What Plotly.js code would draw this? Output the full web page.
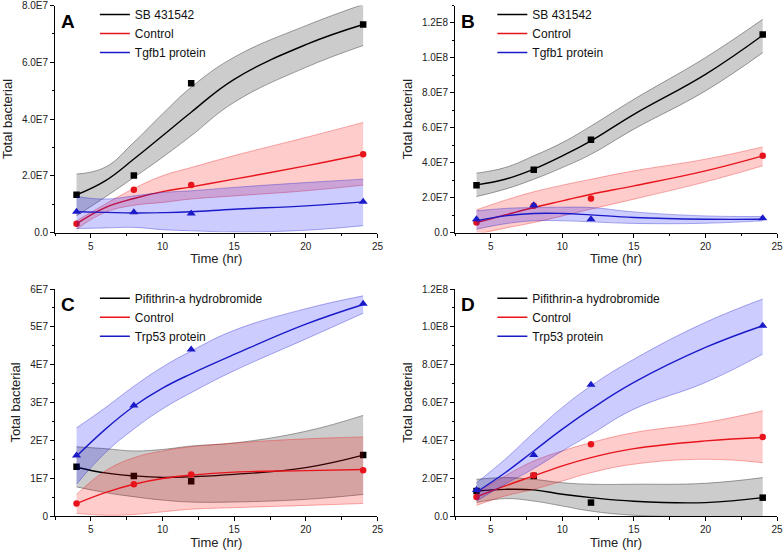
<!DOCTYPE html>
<html>
<head>
<meta charset="utf-8">
<script src="https://cdn.plot.ly/plotly-3.0.1.min.js"></script>
<style>
  html, body { margin: 0; padding: 0; background: #fff; }
  #plot { width: 784px; height: 552px; }
</style>
</head>
<body>
<div id="plot"></div>
<script>
// values are in millions (1E6) of bacteria
let ptX = [4, 8, 12, 24]
let fitX = [4, 6, 8, 10, 12, 15, 20, 24]

// Panel A - SB 431542 / Control / Tgfb1 protein
let aBlackPts = [13.3, 20.1, 52.6, 73.3]
let aBlackFit = [13.3, 18.2, 25.9, 34.1, 42.4, 54.0, 66.2, 73.3]
let aBlackUp  = [20.6, 23.0, 31.8, 41.8, 51.2, 61.8, 72.9, 80.4]
let aBlackLo  = [5.9, 12.5, 19.4, 26.5, 34.1, 45.9, 58.2, 65.9]
let aRedPts = [3.1, 15.1, 16.7, 27.6]
let aRedFit = [3.1, 8.8, 12.0, 14.4, 16.1, 18.8, 23.5, 27.6]
let aRedUp  = [4.1, 10.0, 15.5, 20.0, 22.9, 27.1, 33.5, 38.8]
let aRedLo  = [1.2, 7.1, 9.6, 10.6, 11.8, 12.9, 14.7, 16.7]
let aBluePts = [7.3, 7.1, 6.7, 10.8]
let aBlueFit = [7.3, 7.1, 6.9, 7.0, 7.3, 8.2, 9.4, 10.8]
let aBlueUp  = [12.7, 11.8, 12.9, 14.1, 14.7, 15.9, 17.6, 18.8]
let aBlueLo  = [1.4, 1.6, 1.8, 1.0, 0.6, 0.2, 0.8, 2.4]

// Panel B
let bBlackPts = [27.1, 35.9, 53.1, 113.4]
let bBlackFit = [27.3, 30.5, 36.3, 43.9, 52.5, 67.7, 90.6, 113.0]
let bBlackUp  = [34.0, 37.2, 43.9, 51.5, 61.0, 76.3, 100.2, 122.1]
let bBlackLo  = [20.6, 24.8, 30.5, 37.2, 44.8, 59.2, 81.1, 103.0]
let bRedPts = [5.7, 15.3, 19.5, 43.9]
let bRedFit = [5.7, 10.0, 14.3, 18.1, 21.9, 26.7, 35.3, 43.9]
let bRedUp  = [13.0, 18.5, 23.3, 27.1, 30.5, 35.3, 42.0, 49.0]
let bRedLo  = [-1.0, 2.5, 5.7, 9.5, 13.4, 19.1, 29.0, 38.2]
let bBluePts = [7.6, 15.6, 7.6, 8.2]
let bBlueFit = [6.7, 9.5, 10.9, 10.9, 10.1, 8.6, 7.6, 7.6]
let bBlueUp  = [12.4, 13.8, 14.3, 14.5, 14.3, 11.8, 9.5, 9.2]
let bBlueLo  = [1.9, 5.0, 6.7, 6.7, 6.1, 5.2, 5.3, 6.7]

// Panel C - Pifithrin-a hydrobromide / Control / Trp53 protein
let cBlackPts = [13.0, 10.6, 9.2, 16.1]
let cBlackFit = [12.9, 11.4, 10.6, 10.2, 10.4, 11.0, 12.8, 16.1]
let cBlackUp  = [18.3, 17.8, 17.2, 17.6, 18.5, 19.3, 22.4, 26.6]
let cBlackLo  = [7.7, 6.2, 5.1, 4.2, 3.7, 3.7, 4.4, 5.7]
let cRedPts = [3.3, 8.4, 11.0, 12.1]
let cRedFit = [3.3, 6.2, 8.4, 9.9, 10.8, 11.6, 12.0, 12.3]
let cRedUp  = [5.7, 11.9, 15.4, 17.2, 18.3, 19.3, 20.4, 20.9]
let cRedLo  = [0.7, 0.2, 0.4, 1.1, 1.8, 2.2, 2.8, 3.3]
let cBluePts = [16.0, 29.2, 44.0, 56.1]
let cBlueFit = [15.8, 22.9, 29.0, 33.8, 37.6, 42.7, 50.7, 55.9]
let cBlueUp  = [23.3, 28.6, 34.3, 39.4, 43.6, 49.1, 54.8, 58.2]
let cBlueLo  = [8.4, 16.7, 23.0, 28.3, 32.6, 38.4, 46.8, 53.6]

// Panel D
let dBlackPts = [13.2, 21.2, 7.1, 9.7]
let dBlackFit = [13.2, 14.1, 13.8, 11.5, 9.7, 7.8, 7.1, 9.7]
let dBlackUp  = [19.4, 20.3, 19.4, 17.6, 16.8, 16.8, 17.3, 20.3]
let dBlackLo  = [7.1, 9.2, 7.9, 5.3, 2.6, 0.4, -0.5, -1.5]
let dRedPts = [10.1, 21.5, 37.9, 41.8]
let dRedFit = [10.1, 15.9, 21.2, 26.5, 30.9, 35.6, 39.7, 41.5]
let dRedUp  = [12.4, 21.2, 29.1, 34.4, 38.8, 44.1, 49.4, 55.6]
let dRedLo  = [5.6, 10.6, 14.1, 18.5, 22.9, 27.4, 30.0, 28.2]
let dBluePts = [13.8, 32.3, 69.4, 100.6]
let dBlueFit = [12.7, 22.9, 34.4, 45.9, 56.5, 70.6, 89.1, 100.6]
let dBlueUp  = [17.6, 30.0, 44.1, 57.4, 68.8, 82.9, 102.4, 114.7]
let dBlueLo  = [7.9, 16.8, 25.1, 34.4, 43.2, 56.5, 70.6, 85.6]

// tick labels
let xTicks = [5, 10, 15, 20, 25]
let yTicksAB = [0, 20, 40, 60, 80, 100, 120]
let yTextAB = ['0.0', '2.0E7', '4.0E7', '6.0E7', '8.0E7', '1.0E8', '1.2E8']
let yTicksC = [0, 10, 20, 30, 40, 50, 60]
let yTextC = ['0', '1E7', '2E7', '3E7', '4E7', '5E7', '6E7']

let font = 'Liberation Sans, Arial, sans-serif'

let styles = {
    black: {line: '#000000', edge: 'rgba(60,60,60,0.6)', fill: 'rgba(0,0,0,0.2)', symbol: 'square', size: 6.5},
    red: {line: '#e8141b', edge: 'rgba(230,30,30,0.45)', fill: 'rgba(255,0,0,0.2)', symbol: 'circle', size: 6.5},
    blue: {line: '#1a1ac8', edge: 'rgba(30,30,200,0.45)', fill: 'rgba(0,0,255,0.2)', symbol: 'triangle-up', size: 8}
};

let data = []

// one series = band + fit line + data points
function addSeries(ax, leg, name, col, pts, fit, up, lo) {
    let s = styles[col]
    let xa = 'x' + ax, ya = 'y' + ax
    data.push({x: fitX, y: lo, xaxis: xa, yaxis: ya, mode: 'lines', showlegend: false,
        line: {color: s.edge, width: 0.8, shape: 'spline', smoothing: 1.2}, hoverinfo: 'skip'})
    data.push({x: fitX, y: up, xaxis: xa, yaxis: ya, mode: 'lines', fill: 'tonexty', fillcolor: s.fill,
        showlegend: false, line: {color: s.edge, width: 0.8, shape: 'spline', smoothing: 1.2}, hoverinfo: 'skip'})
    data.push({x: fitX, y: fit, xaxis: xa, yaxis: ya, mode: 'lines', name: name, legend: leg,
        line: {color: s.line, width: 1.4, shape: 'spline', smoothing: 1.2}})
    data.push({x: ptX, y: pts, xaxis: xa, yaxis: ya, mode: 'markers', showlegend: false,
        marker: {color: s.line, symbol: s.symbol, size: s.size}})
}

addSeries('', 'legend', 'SB 431542', 'black', aBlackPts, aBlackFit, aBlackUp, aBlackLo)
addSeries('', 'legend', 'Control', 'red', aRedPts, aRedFit, aRedUp, aRedLo)
addSeries('', 'legend', 'Tgfb1 protein', 'blue', aBluePts, aBlueFit, aBlueUp, aBlueLo)

addSeries('2', 'legend2', 'SB 431542', 'black', bBlackPts, bBlackFit, bBlackUp, bBlackLo)
addSeries('2', 'legend2', 'Control', 'red', bRedPts, bRedFit, bRedUp, bRedLo)
addSeries('2', 'legend2', 'Tgfb1 protein', 'blue', bBluePts, bBlueFit, bBlueUp, bBlueLo)

addSeries('3', 'legend3', 'Pifithrin-a hydrobromide', 'black', cBlackPts, cBlackFit, cBlackUp, cBlackLo)
addSeries('3', 'legend3', 'Control', 'red', cRedPts, cRedFit, cRedUp, cRedLo)
addSeries('3', 'legend3', 'Trp53 protein', 'blue', cBluePts, cBlueFit, cBlueUp, cBlueLo)

addSeries('4', 'legend4', 'Pifithrin-a hydrobromide', 'black', dBlackPts, dBlackFit, dBlackUp, dBlackLo)
addSeries('4', 'legend4', 'Control', 'red', dRedPts, dRedFit, dRedUp, dRedLo)
addSeries('4', 'legend4', 'Trp53 protein', 'blue', dBluePts, dBlueFit, dBlueUp, dBlueLo)

function xAxis(domain, anchor) {
    return {
        domain: domain, anchor: anchor, range: [2.5, 25],
        tickmode: 'array', tickvals: xTicks,
        showline: true, linecolor: '#000', linewidth: 1, mirror: false,
        ticks: 'outside', ticklen: 4, tickcolor: '#000',
        minor: {dtick: 2.5, tick0: 0, ticks: 'outside', ticklen: 2.5, tickcolor: '#000'},
        showgrid: false, zeroline: false,
        tickfont: {size: 10, color: '#222', family: font},
        title: {text: 'Time (hr)', font: {size: 13, color: '#222', family: font}, standoff: 3}
    }
}

function yAxis(domain, anchor, range, vals, text, minorStep) {
    return {
        domain: domain, anchor: anchor, range: range,
        tickmode: 'array', tickvals: vals, ticktext: text,
        showline: true, linecolor: '#000', linewidth: 1,
        ticks: 'outside', ticklen: 4, tickcolor: '#000',
        minor: {dtick: minorStep, tick0: 0, ticks: 'outside', ticklen: 2.5, tickcolor: '#000'},
        showgrid: false, zeroline: false,
        tickfont: {size: 10, color: '#222', family: font},
        title: {text: 'Total bacterial', font: {size: 13, color: '#222', family: font}, standoff: 6}
    }
}

function legendAt(x, y) {
    return {
        x: x, y: y, xanchor: 'left', yanchor: 'top',
        bgcolor: 'rgba(0,0,0,0)', borderwidth: 0, traceorder: 'normal',
        font: {size: 12, color: '#111', family: font},
        itemwidth: 30, tracegroupgap: 0
    }
}

function letter(ax, txt) {
    return {
        text: '<b>' + txt + '</b>', xref: 'x' + ax + ' domain', yref: 'y' + ax + ' domain',
        x: 0.012, y: 0.985, xanchor: 'left', yanchor: 'top', showarrow: false,
        font: {size: 19, color: '#000', family: font}
    }
}

let xdL = [0.0702, 0.4815], xdR = [0.5804, 0.9911]
let ydT = [0.5788, 0.9900], ydB = [0.0652, 0.4764]

let layout = {
    width: 784, height: 552,
    margin: {l: 0, r: 0, t: 0, b: 0},
    paper_bgcolor: '#fff', plot_bgcolor: '#fff',
    font: {family: font},
    xaxis: xAxis(xdL, 'y'),
    yaxis: yAxis(ydT, 'x', [0, 80], yTicksAB, yTextAB, 10),
    xaxis2: xAxis(xdR, 'y2'),
    yaxis2: yAxis(ydT, 'x2', [0, 130], yTicksAB, yTextAB, 10),
    xaxis3: xAxis(xdL, 'y3'),
    yaxis3: yAxis(ydB, 'x3', [0, 60], yTicksC, yTextC, 5),
    xaxis4: xAxis(xdR, 'y4'),
    yaxis4: yAxis(ydB, 'x4', [0, 120], yTicksAB, yTextAB, 10),
    legend: legendAt(0.121, 1.0),
    legend2: legendAt(0.628, 1.0),
    legend3: legendAt(0.121, 0.486),
    legend4: legendAt(0.628, 0.486),
    annotations: [letter('', 'A'), letter('2', 'B'), letter('3', 'C'), letter('4', 'D')]
};

Plotly.newPlot('plot', data, layout, {displayModeBar: false, staticPlot: true});
</script>
</body>
</html>
